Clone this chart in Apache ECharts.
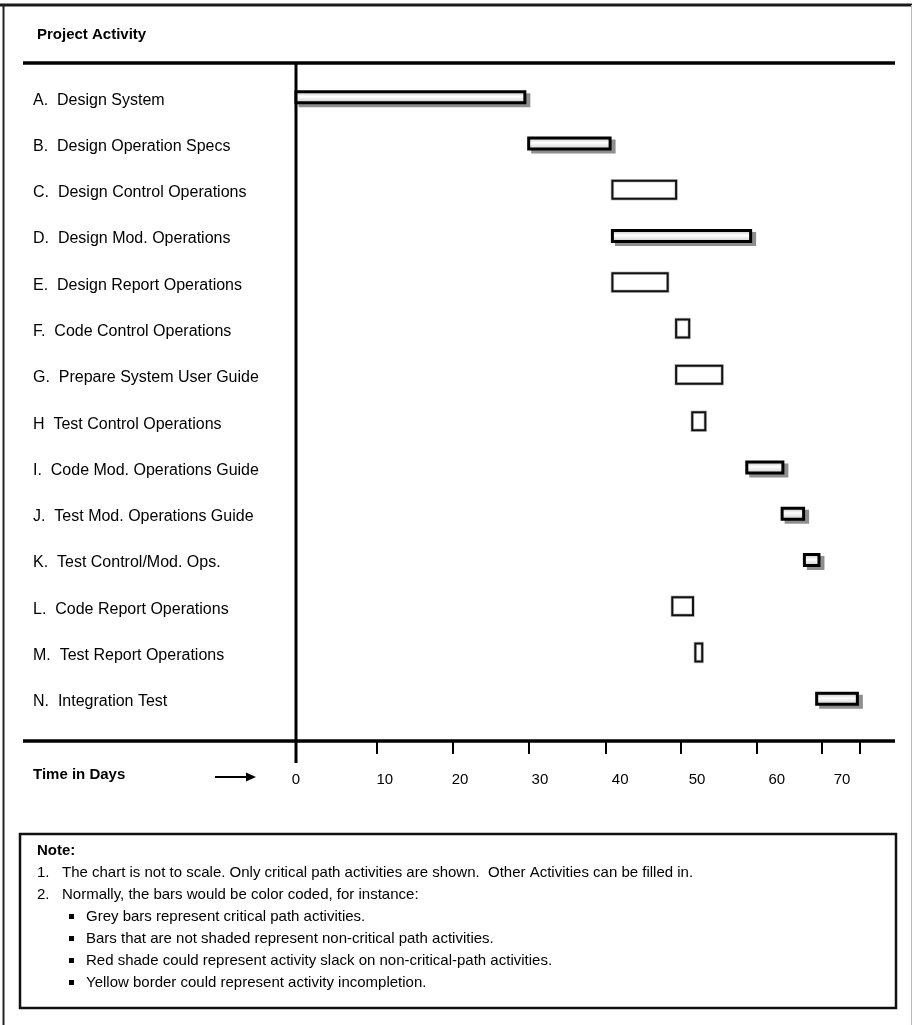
<!DOCTYPE html>
<html><head><meta charset="utf-8">
<script src="https://cdn.jsdelivr.net/npm/echarts@6/dist/echarts.min.js"></script>
<style>html,body{margin:0;padding:0;background:#fff}#c{width:912px;height:1025px}</style>
</head><body><div id="c"></div>
<script>
const activities = [
  'A.  Design System',
  'B.  Design Operation Specs',
  'C.  Design Control Operations',
  'D.  Design Mod. Operations',
  'E.  Design Report Operations',
  'F.  Code Control Operations',
  'G.  Prepare System User Guide',
  'H  Test Control Operations',
  'I.  Code Mod. Operations Guide',
  'J.  Test Mod. Operations Guide',
  'K.  Test Control/Mod. Ops.',
  'L.  Code Report Operations',
  'M.  Test Report Operations',
  'N.  Integration Test'
];
const startDays = [0, 30.3, 41.2, 41.2, 41.2, 49.5, 49.5, 51.6, 58.7, 63.3, 66.2, 49.0, 52.0, 67.8];
const endDays   = [29.8, 40.9, 49.5, 59.2, 48.4, 51.2, 55.5, 53.3, 63.4, 66.1, 68.1, 51.7, 52.9, 73.1];
const critical  = [1, 1, 0, 1, 0, 0, 0, 0, 1, 1, 1, 0, 0, 1];
const tickDays   = [10.5, 20.4, 30.3, 40.3, 50.1, 60, 68.4, 73.4];
const tickLabels = [0, 10, 20, 30, 40, 50, 60, 70];
const titleText = 'Project Activity';
const axisTitle = 'Time in Days';
const noteTitle = 'Note:';
const numberedNotes = [
  ['1.', 'The chart is not to scale. Only critical path activities are shown.  Other Activities can be filled in.'],
  ['2.', 'Normally, the bars would be color coded, for instance:']
];
const bulletNotes = [
  'Grey bars represent critical path activities.',
  'Bars that are not shaded represent non-critical path activities.',
  'Red shade could represent activity slack on non-critical-path activities.',
  'Yellow border could represent activity incompletion.'
];

const FONT = "'Liberation Sans',Arial,sans-serif";
// style-only tweak: left padding per tick label, pixels
const labelPad = {0: 0, 10: 24, 20: 21, 30: 27, 40: 34, 50: 34, 60: 40, 70: 17};

const chart = echarts.init(document.getElementById('c'), null, {renderer: 'canvas'});

const barData = activities.map((a, i) => [i, startDays[i], endDays[i], critical[i]]);

const critFill = new echarts.graphic.LinearGradient(0, 0, 0, 1, [
  {offset: 0, color: '#b0b0b0'},
  {offset: 0.45, color: '#ffffff'},
  {offset: 1, color: '#c0c0c0'}
]);

function renderItem(params, api) {
  const i = api.value(0);
  const s = api.coord([api.value(1), i]);
  const e = api.coord([api.value(2), i]);
  const crit = api.value(3) === 1;
  const w = e[0] - s[0];
  if (crit) {
    const h = 11;
    return {
      type: 'group',
      children: [
        {type: 'rect', shape: {x: s[0] - 1.5 + 4, y: s[1] - h / 2 - 1.5 + 3, width: w + 3, height: h + 3},
         style: {fill: '#8e8e8e'}},
        {type: 'rect', shape: {x: s[0], y: s[1] - h / 2, width: w, height: h},
         style: {fill: critFill, stroke: '#000', lineWidth: 3}}
      ]
    };
  }
  const h = 18;
  return {
    type: 'group',
    children: [
      {type: 'rect', shape: {x: s[0], y: s[1] - h / 2, width: w, height: h},
       style: {fill: '#fff', stroke: '#c8c8c8', lineWidth: 3.5}},
      {type: 'rect', shape: {x: s[0], y: s[1] - h / 2, width: w, height: h},
       style: {fill: 'rgba(0,0,0,0)', stroke: '#111', lineWidth: 2}}
    ]
  };
}

const graphics = [
  {type: 'line', shape: {x1: 0, y1: 5, x2: 912, y2: 5}, style: {stroke: '#1a1a1a', lineWidth: 3}},
  {type: 'line', shape: {x1: 3.5, y1: 5, x2: 3.5, y2: 1025}, style: {stroke: '#222', lineWidth: 2}},
  {type: 'line', shape: {x1: 911.5, y1: 5, x2: 911.5, y2: 1025}, style: {stroke: '#bbb', lineWidth: 1}},
  {type: 'line', shape: {x1: 23, y1: 63, x2: 895, y2: 63}, style: {stroke: '#000', lineWidth: 3.5}},
  {type: 'line', shape: {x1: 296, y1: 63, x2: 296, y2: 763}, style: {stroke: '#000', lineWidth: 3}},
  {type: 'line', shape: {x1: 23, y1: 741, x2: 895, y2: 741}, style: {stroke: '#000', lineWidth: 3.5}},
  {type: 'text', x: 37, y: 35, style: {text: titleText, font: 'bold 15px ' + FONT, fill: '#000', textVerticalAlign: 'middle'}},
  {type: 'text', x: 33, y: 775, style: {text: axisTitle, font: 'bold 15px ' + FONT, fill: '#000', textVerticalAlign: 'middle'}},
  {type: 'line', shape: {x1: 215, y1: 777, x2: 248, y2: 777}, style: {stroke: '#000', lineWidth: 2}},
  {type: 'polygon', shape: {points: [[246, 772.5], [256, 777], [246, 781.5]]}, style: {fill: '#000'}},
  {type: 'rect', shape: {x: 20, y: 834, width: 876, height: 174}, style: {fill: 'none', stroke: '#111', lineWidth: 2.5}},
  {type: 'text', x: 37, y: 851, style: {text: noteTitle, font: 'bold 15px ' + FONT, fill: '#000', textVerticalAlign: 'middle'}}
];
numberedNotes.forEach((n, k) => {
  const y = 873 + k * 22;
  graphics.push({type: 'text', x: 37, y: y, style: {text: n[0], font: '15px ' + FONT, fill: '#000', textVerticalAlign: 'middle'}});
  graphics.push({type: 'text', x: 62, y: y, style: {text: n[1], font: '15px ' + FONT, fill: '#000', textVerticalAlign: 'middle'}});
});
bulletNotes.forEach((t, k) => {
  const y = 917 + k * 22;
  graphics.push({type: 'rect', shape: {x: 69, y: y - 3, width: 5, height: 5}, style: {fill: '#000'}});
  graphics.push({type: 'text', x: 86, y: y, style: {text: t, font: '15px ' + FONT, fill: '#000', textVerticalAlign: 'middle'}});
});

const tickRich = {};
tickLabels.forEach(v => {
  tickRich['p' + v] = {fontSize: 15, fontFamily: FONT, color: '#000', padding: [0, 0, 0, labelPad[v] || 0]};
});

chart.setOption({
  animation: false,
  backgroundColor: '#fff',
  grid: {left: 296, top: 74, width: 599, height: 648},
  xAxis: {
    type: 'value', min: 0, max: 78, position: 'bottom', offset: 19,
    axisLine: {show: false},
    splitLine: {show: false},
    axisTick: {show: true, customValues: tickDays, length: 13, inside: false, lineStyle: {color: '#000', width: 2}},
    axisLabel: {
      show: true, customValues: tickLabels, margin: 31,
      formatter: v => '{p' + v + '|' + v + '}',
      rich: tickRich
    }
  },
  yAxis: {
    type: 'category', data: activities, inverse: true,
    axisLine: {show: false}, axisTick: {show: false}, splitLine: {show: false},
    axisLabel: {
      align: 'left', margin: 263, fontSize: 16, fontFamily: FONT, color: '#000',
      formatter: v => '{r|' + v + '}',
      rich: {r: {fontSize: 16, fontFamily: FONT, color: '#000', padding: [6, 0, 0, 0]}}
    }
  },
  graphic: {elements: graphics},
  series: [{
    type: 'custom',
    renderItem: renderItem,
    encode: {x: [1, 2], y: 0},
    data: barData
  }]
});
</script></body></html>
